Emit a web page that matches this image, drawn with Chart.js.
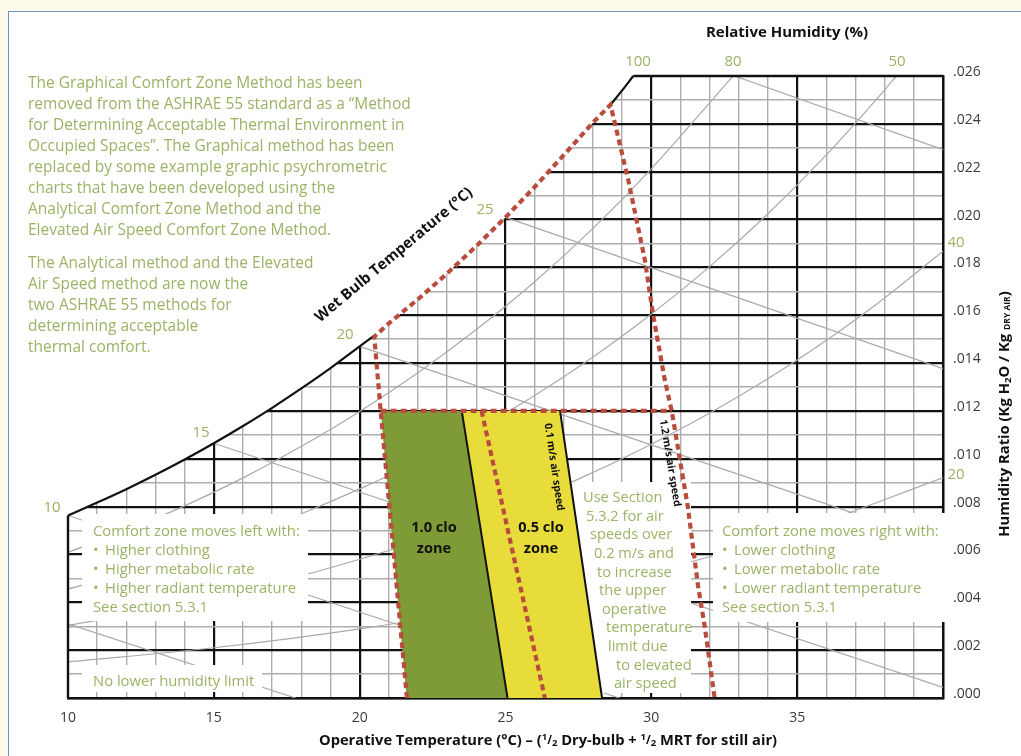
<!DOCTYPE html>
<html>
<head>
<meta charset="utf-8">
<script src="https://cdn.jsdelivr.net/npm/chart.js@4.4.1/dist/chart.umd.min.js"></script>
<style>
  html, body { margin: 0; padding: 0; background: #fefbec; overflow: hidden; }
  #panel { position: absolute; left: 8px; top: 11px; width: 1013px; height: 745px;
           background: #ffffff; border-left: 1px solid #6e91c9; border-top: 1px solid #6e91c9; }
  #c { position: absolute; left: 0; top: 0; }
</style>
</head>
<body>
<div id="panel"></div>
<canvas id="c" width="1021" height="756"></canvas>
<script>
// ---- Psychrometric chart data (dry-bulb °C, humidity ratio kg/kg) ----
const satT = [10, 11, 12, 13, 14, 15, 16, 17, 18, 19, 20, 20.5, 21, 22, 23, 24, 25, 26, 27, 28, 28.6, 29, 29.38];
const satW = [0.00763, 0.00817, 0.00873, 0.00933, 0.00997, 0.01065, 0.01137, 0.01213, 0.01294, 0.01379, 0.01470,
              0.01515, 0.01566, 0.01667, 0.01775, 0.01889, 0.02009, 0.02136, 0.02270, 0.02405, 0.02480, 0.02540, 0.02600];

const rh80T = [10, 12, 14, 16, 18, 20, 22, 24, 26, 28, 30, 32, 32.8];
const rh80W = [0.00609, 0.00700, 0.00803, 0.00920, 0.01052, 0.01198, 0.01360, 0.01540, 0.01740, 0.01963, 0.02212, 0.02488, 0.02600];
const rh60T = [10, 12, 14, 16, 18, 20, 22, 24, 26, 28, 30, 32, 34, 36, 38, 38.4];
const rh60W = [0.00456, 0.00521, 0.00595, 0.00677, 0.00770, 0.00874, 0.00990, 0.01120, 0.01264, 0.01425, 0.01605,
               0.01803, 0.02024, 0.02270, 0.02542, 0.02600];
const rh40T = [10, 12.5, 15, 17.5, 20, 22.5, 25, 27.5, 30, 32.5, 35, 37.5, 40];
const rh40W = [0.00303, 0.00358, 0.00422, 0.00495, 0.00580, 0.00675, 0.00788, 0.00915, 0.01061, 0.01226, 0.01413, 0.01626, 0.01868];
const rh20T = [10, 15, 20, 25, 30, 35, 40];
const rh20W = [0.00151, 0.00210, 0.00289, 0.00392, 0.00526, 0.00699, 0.00920];

// wet-bulb lines: start and end points
const wbStartT = [10, 10, 15, 20, 25, 32.85];
const wbStartW = [0.0031, 0.00763, 0.01065, 0.01470, 0.02009, 0.02600];
const wbEndT   = [17.8, 28.9, 40, 40, 40, 40];
const wbEndW   = [0, 0, 0.00044, 0.00646, 0.01377, 0.02292];

// comfort zones
const clo10T = [21.61, 20.72, 23.50, 25.07];
const clo10W = [0, 0.012, 0.012, 0];
const clo05T = [25.07, 23.50, 26.87, 28.31];
const clo05W = [0, 0.012, 0.012, 0];

// elevated air speed boundary
const airLeftT  = [21.62, 20.72, 20.5];
const airLeftW  = [0, 0.012, 0.0151];
const airRightT = [28.6, 29.2, 29.78, 30.05, 30.46, 30.7, 31.25, 31.6, 31.83, 32.17];
const airRightW = [0.0248, 0.0217, 0.0183, 0.0161, 0.0133, 0.0120, 0.0080, 0.0047, 0.0030, 0];
const humLimitT = [20.72, 30.7];
const humLimitW = [0.012, 0.012];
const midT = [24.18, 26.35];
const midW = [0.012, 0];

// tick labels
const xTickLabels = ['10', '15', '20', '25', '30', '35'];
const yTickLabels = ['.000', '.002', '.004', '.006', '.008', '.010', '.012', '.014', '.016', '.018', '.020', '.022', '.024', '.026'];

// curve labels
const rhLabels = ['100', '80', '50'];
const rhSideLabels = ['40', '20'];
const wbLabels = ['10', '15', '20', '25'];

// ---- styles ----
const GREEN_TXT = '#9bb367';
const GRAY = '#adadad';
const CURVE = '#a9a9a9';
const BLACK = '#111111';
const RED = '#b94d3d';
const FONT = '"Open Sans", "Noto Sans", sans-serif';

const pts = (xs, ys) => xs.map((x, i) => ({ x: x, y: ys[i] }));
const satBlackA = pts(satT, satW).filter(p => p.x <= 20.5);
const satBlackB = pts(satT, satW).filter(p => p.x >= 28.6);
const satRed = pts(satT, satW).filter(p => p.x > 20.5 && p.x < 28.6);
const airPath = pts(airLeftT, airLeftW).concat(satRed, pts(airRightT, airRightW));

function line(label, data, color, width, extra) {
  return Object.assign({ label: label, data: data, borderColor: color, borderWidth: width, pointRadius: 0,
    showLine: true, fill: false, tension: 0 }, extra || {});
}

const layers = [];
layers.push(line('rh80', pts(rh80T, rh80W), CURVE, 1.2, { cubicInterpolationMode: 'monotone' }));
layers.push(line('rh60', pts(rh60T, rh60W), CURVE, 1.2, { cubicInterpolationMode: 'monotone' }));
layers.push(line('rh40', pts(rh40T, rh40W), CURVE, 1.2, { cubicInterpolationMode: 'monotone' }));
layers.push(line('rh20', pts(rh20T, rh20W), CURVE, 1.2, { cubicInterpolationMode: 'monotone' }));
wbStartT.forEach((t, i) => {
  layers.push(line('wb' + i, [{ x: t, y: wbStartW[i] }, { x: wbEndT[i], y: wbEndW[i] }], CURVE, 1.2));
});
layers.push(line('satFill', pts(satT, satW), 'rgba(0,0,0,0)', 0,
  { fill: 'end', backgroundColor: '#ffffff', cubicInterpolationMode: 'monotone' }));
layers.push(line('clo10', pts(clo10T, clo10W), 'rgba(0,0,0,0)', 0, { fill: 'shape', backgroundColor: '#7f9b37' }));
layers.push(line('clo05', pts(clo05T, clo05W), 'rgba(0,0,0,0)', 0, { fill: 'shape', backgroundColor: '#e8dc3b' }));
layers.push(line('clo10edge', pts(clo10T.slice(2), clo10W.slice(2)).reverse(), BLACK, 2));
layers.push(line('clo05edge', pts(clo05T.slice(2), clo05W.slice(2)), BLACK, 2));
layers.push(line('topBorder', [{ x: satT[satT.length - 1], y: satW[satW.length - 1] }, { x: 40, y: 0.026 }], BLACK, 2.4, { clip: 3 }));
layers.push(line('leftBorder', [{ x: 10, y: 0 }, { x: satT[0], y: satW[0] }], BLACK, 2.4, { clip: 3 }));
layers.push(line('satA', satBlackA, BLACK, 2.2, { cubicInterpolationMode: 'monotone', clip: 3 }));
layers.push(line('satB', satBlackB, BLACK, 2.2, { cubicInterpolationMode: 'monotone', clip: 3 }));
layers.push(line('humLimit', pts(humLimitT, humLimitW), RED, 4.2, { borderDash: [6, 4] }));
layers.push(line('mid', pts(midT, midW), RED, 4.2, { borderDash: [6, 4] }));
layers.push(line('air', airPath, RED, 4.2, { borderDash: [6, 4] }));
layers.forEach((d, i) => { d.order = layers.length - i; });

// ---- annotation drawing ----
function boxes(ctx) {
  ctx.save();
  ctx.fillStyle = '#ffffff';
  ctx.fillRect(82, 514, 226, 107);
  ctx.fillRect(82, 665, 180, 27);
  ctx.fillRect(713, 513, 233, 109);
  ctx.fillRect(571, 482, 120, 211);
  ctx.restore();
}

function runs(ctx, parts, cx, cy) {
  let total = 0;
  parts.forEach(p => { ctx.font = p[3] + ' ' + p[1] + 'px ' + FONT; total += ctx.measureText(p[0]).width; });
  let x = cx - total / 2;
  parts.forEach(p => {
    ctx.font = p[3] + ' ' + p[1] + 'px ' + FONT;
    ctx.fillText(p[0], x, cy + p[2]);
    x += ctx.measureText(p[0]).width;
  });
}

function texts(ctx) {
  ctx.save();
  ctx.textBaseline = 'middle';
  ctx.fillStyle = GREEN_TXT;
  ctx.font = '15.5px ' + FONT;
  ctx.textAlign = 'left';
  const para1 = ['The Graphical Comfort Zone Method has been',
    'removed from the ASHRAE 55 standard as a \u201CMethod',
    'for Determining Acceptable Thermal Environment in',
    'Occupied Spaces\u201D. The Graphical method has been',
    'replaced by some example graphic psychrometric',
    'charts that have been developed using the',
    'Analytical Comfort Zone Method and the',
    'Elevated Air Speed Comfort Zone Method.'];
  para1.forEach((s, i) => ctx.fillText(s, 28, 84 + i * 20.9));
  const para2 = ['The Analytical method and the Elevated', 'Air Speed method are now the',
    'two ASHRAE 55 methods for', 'determining acceptable', 'thermal comfort.'];
  para2.forEach((s, i) => ctx.fillText(s, 28, 264 + i * 20.9));

  // comfort-zone notes
  ctx.font = '14.8px ' + FONT;
  const left = ['Higher clothing', 'Higher metabolic rate', 'Higher radiant temperature'];
  const right = ['Lower clothing', 'Lower metabolic rate', 'Lower radiant temperature'];
  const noteY = [532, 551, 570, 589, 608];
  ctx.fillText('Comfort zone moves left with:', 93, noteY[0]);
  ctx.fillText('Comfort zone moves right with:', 722, noteY[0]);
  left.forEach((s, i) => { ctx.fillText('\u2022', 93, noteY[i + 1]); ctx.fillText(s, 105, noteY[i + 1]); });
  right.forEach((s, i) => { ctx.fillText('\u2022', 722, noteY[i + 1]); ctx.fillText(s, 734, noteY[i + 1]); });
  ctx.fillText('See section 5.3.1', 93, noteY[4]);
  ctx.fillText('See section 5.3.1', 722, noteY[4]);
  ctx.fillText('No lower humidity limit', 93, 682);

  ctx.font = '14.6px ' + FONT;
  const sect = ['Use Section', '5.3.2 for air', 'speeds over', '0.2 m/s and', 'to increase', 'the upper',
    'operative', 'temperature', 'limit due', 'to elevated', 'air speed'];
  const sectX = [583, 586, 590, 594, 597, 599, 602, 606, 608, 616, 614];
  sect.forEach((s, i) => ctx.fillText(s, sectX[i], 498 + i * 18.6));

  // curve labels
  ctx.textAlign = 'center';
  ctx.font = '15px ' + FONT;
  [[638], [733], [897]].forEach((p, i) => ctx.fillText(rhLabels[i], p[0], 62));
  [[956, 243], [956, 475]].forEach((p, i) => ctx.fillText(rhSideLabels[i], p[0], p[1]));
  [[52, 508], [201, 433], [345, 335], [485, 210]].forEach((p, i) => ctx.fillText(wbLabels[i], p[0], p[1]));

  // bold black titles
  ctx.fillStyle = '#111';
  ctx.font = 'bold 15px ' + FONT;
  ctx.fillText('Relative Humidity (%)', 787, 33);
  ctx.font = 'bold 14.6px ' + FONT;
  ctx.fillText('1.0 clo', 434, 528);
  ctx.fillText('zone', 434, 549);
  ctx.fillText('0.5 clo', 541, 528);
  ctx.fillText('zone', 541, 549);

  ctx.font = 'bold 15px ' + FONT;
  ctx.save();
  ctx.translate(394, 255); ctx.rotate(-40 * Math.PI / 180);
  ctx.fillText('Wet Bulb Temperature (\u00B0C)', 0, 0);
  ctx.restore();

  ctx.font = 'bold 10.5px ' + FONT;
  ctx.save();
  ctx.translate(554, 467); ctx.rotate(81.6 * Math.PI / 180);
  ctx.fillText('0.1 m/s air speed', 0, 0);
  ctx.restore();
  ctx.save();
  ctx.translate(670, 463); ctx.rotate(80.6 * Math.PI / 180);
  ctx.fillText('1.2 m/s air speed', 0, 0);
  ctx.restore();

  ctx.textAlign = 'left';
  runs(ctx, [['Operative Temperature (\u00B0C) \u2013 (', 14.7, 0, 'bold'], ['1', 9.5, -4, 'bold'], ['/', 11.5, 0, 'bold'],
    ['2', 9.5, 2, 'bold'], [' Dry-bulb + ', 14.7, 0, 'bold'], ['1', 9.5, -4, 'bold'], ['/', 11.5, 0, 'bold'], ['2', 9.5, 2, 'bold'],
    [' MRT for still air)', 14.7, 0, 'bold']], 548, 741);

  ctx.save();
  ctx.translate(1005, 414); ctx.rotate(-Math.PI / 2);
  runs(ctx, [['Humidity Ratio (Kg H', 14.8, 0, 'bold'], ['2', 9.5, 3, 'bold'], ['O / Kg ', 14.8, 0, 'bold'],
    ['DRY AIR', 8.5, 3, 'bold'], [')', 14.8, 0, 'bold']], 0, 0);
  ctx.restore();
  ctx.restore();
}

const annotations = {
  id: 'annotations',
  afterDatasetDraw(chart, args) {
    if (chart.data.datasets[args.index].label === 'satFill') boxes(chart.ctx);
  },
  afterDatasetsDraw(chart) { texts(chart.ctx); }
};

const isMajorX = v => Math.round(v) % 5 === 0;
const isMajorY = v => Math.round(v * 1000) % 2 === 0;

new Chart(document.getElementById('c'), {
  type: 'scatter',
  data: { datasets: layers },
  options: {
    responsive: false,
    animation: false,
    events: [],
    layout: { padding: { left: 68, top: 76, right: 0, bottom: 0 } },
    plugins: { legend: { display: false }, tooltip: { enabled: false } },
    scales: {
      x: {
        type: 'linear', position: 'bottom', min: 10, max: 40,
        afterFit: s => { s.height = 58; },
        ticks: {
          stepSize: 1, autoSkip: false, maxRotation: 0, padding: 12, color: '#3a3a3a',
          font: { family: FONT, size: 14 },
          callback: v => xTickLabels.includes(String(v)) ? String(v) : ''
        },
        grid: {
          drawTicks: false,
          color: c => (c.tick.value === 10 ? 'rgba(0,0,0,0)' : (isMajorX(c.tick.value) ? BLACK : GRAY)),
          lineWidth: c => (isMajorX(c.tick.value) ? 2.2 : 1.4)
        },
        border: { display: true, color: BLACK, width: 2.4 }
      },
      y: {
        type: 'linear', position: 'right', min: 0, max: 0.026,
        afterFit: s => { s.width = 78; },
        ticks: {
          stepSize: 0.001, autoSkip: false, padding: 10, color: '#3a3a3a', labelOffset: -4,
          font: { family: FONT, size: 14 },
          callback: v => { const k = Math.round(v * 1000); return k % 2 === 0 ? yTickLabels[k / 2] : ''; }
        },
        grid: {
          drawTicks: false,
          color: c => (Math.round(c.tick.value * 1000) === 26 ? 'rgba(0,0,0,0)' : (isMajorY(c.tick.value) ? BLACK : GRAY)),
          lineWidth: c => (isMajorY(c.tick.value) ? 2.2 : 1.4)
        },
        border: { display: true, color: BLACK, width: 2.4 }
      }
    }
  },
  plugins: [annotations]
});
</script>
</body>
</html>
